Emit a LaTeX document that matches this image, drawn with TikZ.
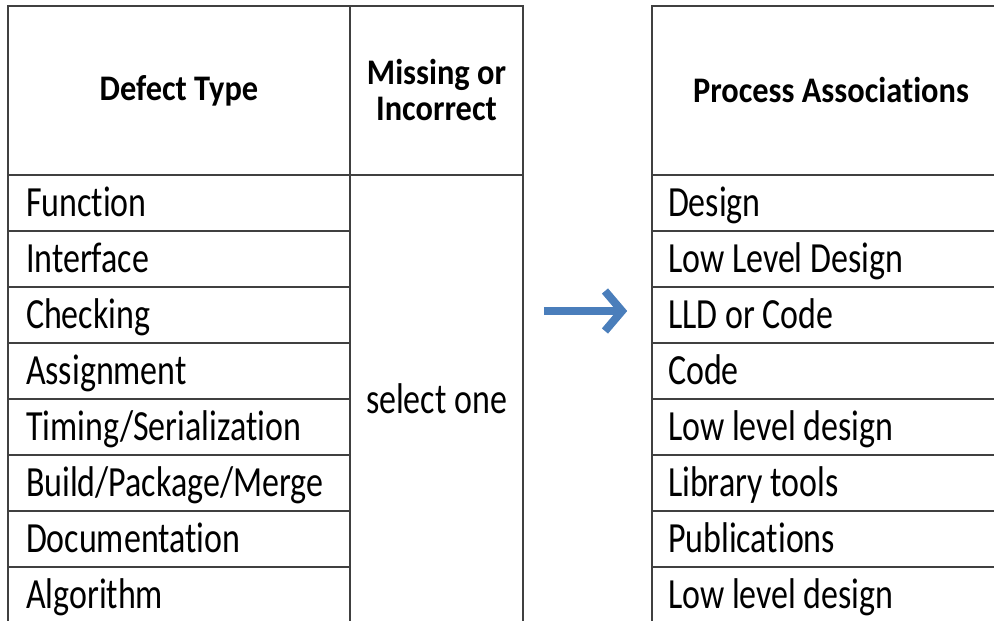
\documentclass[tikz,border=0pt]{standalone}
\usepackage{fontspec}
\setmainfont[FakeStretch=0.79, Ligatures=NoCommon]{Carlito}
\newfontfamily\headfont[FakeStretch=0.9, Ligatures=NoCommon]{Carlito}
\usepackage{tikz}
\usetikzlibrary{shapes,arrows.meta}
\definecolor{gridgray}{RGB}{64,64,64}
\definecolor{arrowblue}{RGB}{74,126,187}
\tikzstyle{line} = [draw=arrowblue, line width=8pt, -{Straight Barb[length=17pt, width=40pt]}]
\tikzstyle{head} = [rectangle, draw=gridgray, line width=1.6pt, inner sep=0pt, minimum height=169pt, align=center, font=\headfont\bfseries\fontsize{36}{36}\selectfont]
\tikzstyle{def_cell} = [rectangle, draw=gridgray, line width=1.6pt, text width=306pt, inner xsep=18pt, inner ysep=0pt, minimum height=56pt, text height=27pt, text depth=0pt, align=flush left, node distance=56pt, font=\fontsize{43}{50}\selectfont]
\tikzstyle{pro_cell} = [def_cell, text width=326pt, inner xsep=16pt]
\tikzstyle{sel_cell} = [rectangle, draw=gridgray, line width=1.6pt, inner sep=0pt, minimum width=173pt, minimum height=448pt, align=center, font=\fontsize{43}{50}\selectfont]

\begin{document}
\begin{tikzpicture}[x=1pt, y=1pt]
\useasboundingbox (0,0) rectangle (994,-621);
\clip (0,0) rectangle (994,-621);

\node [head, minimum width=342pt] at (179,-90.5) (defect) {Defect Type};
\node [head, minimum width=173pt, right of=defect, node distance=257.5pt] (missing) {Missing or\\Incorrect};
\node [head, minimum width=358pt, right of=missing, node distance=394.5pt] (process) {Process Associations};

\node [def_cell, below of=defect, node distance=112.5pt] (function) {Function};
\node [def_cell, below of=function] (interface) {Interface};
\node [def_cell, below of=interface] (checking) {Checking};
\node [def_cell, below of=checking] (assignment) {Assignment};
\node [def_cell, below of=assignment] (timing) {Timing/Serialization};
\node [def_cell, below of=timing] (build) {Build/Package/Merge};
\node [def_cell, below of=build] (documentation) {Documentation};
\node [def_cell, below of=documentation] (algorithm) {Algorithm};

\node [sel_cell, below of=missing, node distance=308.5pt] (select) {select one};

\node [pro_cell, below of=process, node distance=112.5pt] (design) {Design};
\node [pro_cell, below of=design] (lld) {Low Level Design};
\node [pro_cell, below of=lld] (lldcode) {LLD or Code};
\node [pro_cell, below of=lldcode] (code) {Code};
\node [pro_cell, below of=code] (lowlevel1) {Low level design};
\node [pro_cell, below of=lowlevel1] (library) {Library tools};
\node [pro_cell, below of=library] (publications) {Publications};
\node [pro_cell, below of=publications] (lowlevel2) {Low level design};

\path [line] ([xshift=20pt, yshift=4pt]select.east |- lldcode.west) -- ([xshift=-24pt, yshift=4pt]lldcode.west);
\end{tikzpicture}
\end{document}
